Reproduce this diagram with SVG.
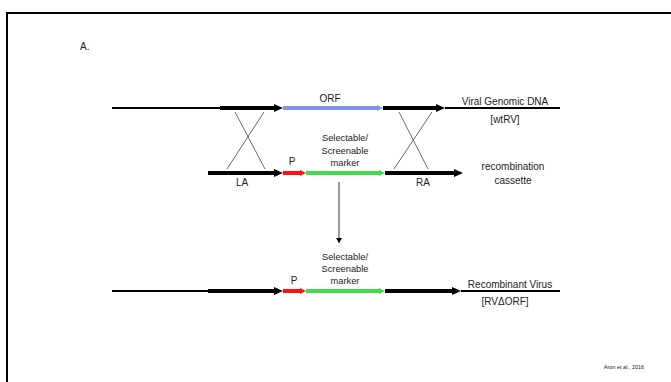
<svg xmlns="http://www.w3.org/2000/svg" width="671" height="382" viewBox="0 0 671 382">
<defs>
<style>
text{font-family:"Liberation Sans",Arial,sans-serif;fill:#222;}
.t{font-size:10px;}
.s{font-size:9.3px;}
.c{text-anchor:middle;}
.thin{stroke:#000;stroke-width:2;fill:none;}
.thick{stroke:#000;stroke-width:4;fill:none;}
.blue{stroke:#7f95e6;stroke-width:4;fill:none;}
.red{stroke:#ff1010;stroke-width:4;fill:none;}
.green{stroke:#3ddd48;stroke-width:4;fill:none;}
.hk{fill:#000;}
.hb{fill:#7f95e6;}
.hr{fill:#ff1010;}
.hg{fill:#3ddd48;}
.x{stroke:#444;stroke-width:0.8;fill:none;}
</style>
<marker id="as" markerUnits="userSpaceOnUse" markerWidth="6" markerHeight="6" refX="5" refY="3" orient="auto"><path d="M0,0 L5,3 L0,6 Z" fill="#000"/></marker>
</defs>
<rect x="7" y="13" width="680" height="390" fill="none" stroke="#000" stroke-width="2"/>
<text class="t" x="80" y="50">A.</text>

<g id="row1">
<line class="thin" x1="112" y1="108" x2="222" y2="108"/>
<line class="thick" x1="220" y1="108" x2="275" y2="108"/>
<polygon class="hk" points="274,104 283,108 274,112"/>
<line class="blue" x1="283" y1="108" x2="378" y2="108"/>
<polygon class="hb" points="377,105 383,108 377,111"/>
<line class="thick" x1="383" y1="108" x2="437" y2="108"/>
<polygon class="hk" points="436,104 445,108 436,112"/>
<line class="thin" x1="445" y1="108" x2="560" y2="108"/>
<text class="t c" x="330" y="102">ORF</text>
<text class="t c" x="505" y="105">Viral Genomic DNA</text>
<text class="t c" x="505" y="123">[wtRV]</text>
</g>

<g id="crossovers">
<line class="x" x1="235" y1="112" x2="265" y2="169"/>
<line class="x" x1="264" y1="112" x2="227" y2="169"/>
<line class="x" x1="399" y1="112" x2="428" y2="169"/>
<line class="x" x1="432" y1="112" x2="394" y2="169"/>
</g>

<g id="row2">
<line class="thick" x1="208" y1="173" x2="275" y2="173"/>
<polygon class="hk" points="274,169 283,173 274,177"/>
<line class="red" x1="283" y1="173" x2="301" y2="173"/>
<polygon class="hr" points="300,170 306,173 300,176"/>
<line class="green" x1="306" y1="173" x2="380" y2="173"/>
<polygon class="hg" points="379,170 385,173 379,176"/>
<line class="thick" x1="385" y1="173" x2="455" y2="173"/>
<polygon class="hk" points="454,169 463,173 454,177"/>
<text class="t c" x="292" y="165">P</text>
<text class="s c" x="345" y="141">Selectable/</text>
<text class="s c" x="345" y="154">Screenable</text>
<text class="s c" x="345" y="166">marker</text>
<text class="t c" x="242" y="186">LA</text>
<text class="t c" x="423" y="186">RA</text>
<text class="t c" x="513" y="170">recombination</text>
<text class="t c" x="513" y="184">cassette</text>
</g>

<g id="connectors">
<line x1="339" y1="182" x2="339" y2="243" stroke="#000" stroke-width="0.8" marker-end="url(#as)"/>
</g>

<g id="row3">
<line class="thin" x1="112" y1="291" x2="210" y2="291"/>
<line class="thick" x1="208" y1="291" x2="275" y2="291"/>
<polygon class="hk" points="274,287 283,291 274,295"/>
<line class="red" x1="283" y1="291" x2="301" y2="291"/>
<polygon class="hr" points="300,288 306,291 300,294"/>
<line class="green" x1="306" y1="291" x2="380" y2="291"/>
<polygon class="hg" points="379,288 385,291 379,294"/>
<line class="thick" x1="385" y1="291" x2="453" y2="291"/>
<polygon class="hk" points="452,287 461,291 452,295"/>
<line class="thin" x1="461" y1="291" x2="560" y2="291"/>
<text class="t c" x="294" y="284">P</text>
<text class="s c" x="345" y="260">Selectable/</text>
<text class="s c" x="345" y="272">Screenable</text>
<text class="s c" x="345" y="284">marker</text>
<text class="t c" x="510" y="288">Recombinant Virus</text>
<text class="t c" x="505" y="305">[RVΔORF]</text>
</g>

<text x="624" y="369" style="font-size:5.5px;text-anchor:middle">Aron et al., 2016</text>
</svg>
